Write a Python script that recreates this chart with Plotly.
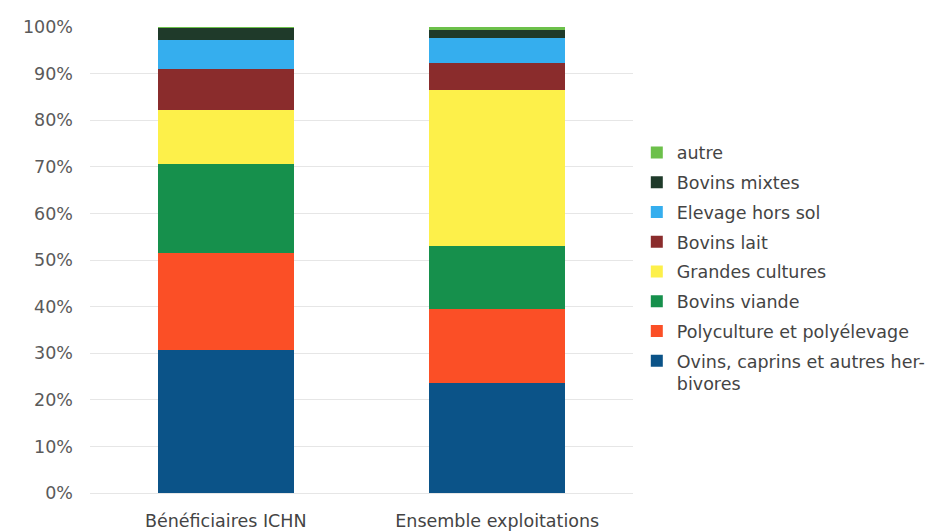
import plotly.graph_objects as go

categories = ["Bénéficiaires ICHN", "Ensemble exploitations"]
series_names = [
    "Ovins, caprins et autres her-<br>bivores",
    "Polyculture et polyélevage",
    "Bovins viande",
    "Grandes cultures",
    "Bovins lait",
    "Elevage hors sol",
    "Bovins mixtes",
    "autre",
]
ovins = [30.7, 23.6]
polyculture = [20.8, 15.9]
bovins_viande = [19.1, 13.5]
grandes_cultures = [11.5, 33.4]
bovins_lait = [8.9, 5.8]
elevage_hors_sol = [6.3, 5.4]
bovins_mixtes = [2.6, 1.8]
autre = [0.1, 0.6]
values = [ovins, polyculture, bovins_viande, grandes_cultures, bovins_lait,
          elevage_hors_sol, bovins_mixtes, autre]
colors = ["#0b5388", "#fb4f26", "#16904c", "#fdf04a", "#8a2c2c", "#35aeee", "#1f3a2a", "#6cc04a"]

fig = go.Figure()
n = len(series_names)
for i, (name, vals, col) in enumerate(zip(series_names, values, colors)):
    fig.add_trace(go.Bar(
        x=categories, y=[v / 100 for v in vals], name=name,
        marker=dict(color=col, line=dict(width=0)),
        legendgroup=f"g{i}", legendrank=100 + (n - i),
    ))

FONT = "DejaVu Sans, Liberation Sans, sans-serif"
FS = 17.5
fig.update_layout(
    width=941, height=532,
    barmode="stack", bargap=0.5,
    plot_bgcolor="white", paper_bgcolor="white",
    margin=dict(l=82, r=316, t=9, b=46),
    font=dict(family=FONT, size=FS, color="#555555"),
    legend=dict(
        traceorder="grouped", x=1.007, y=0.769, yanchor="top", xanchor="left",
        font=dict(family=FONT, size=FS, color="#444444"), tracegroupgap=4,
        itemwidth=30, valign="top",
    ),
    showlegend=True,
)
fig.update_yaxes(
    range=[0, 1], tickformat=".0%", dtick=0.1, showgrid=True,
    gridcolor="#e6e6e6", zeroline=False, ticks="", ticklabelstandoff=16,
    ticklabeloverflow="allow",
    tickfont=dict(family=FONT, size=FS, color="#5a5a5a"),
)
fig.update_xaxes(
    showline=True, linecolor="#e6e6e6", ticks="", ticklabelstandoff=12,
    tickfont=dict(family=FONT, size=FS, color="#444444"),
)
fig.write_html("out.html")
